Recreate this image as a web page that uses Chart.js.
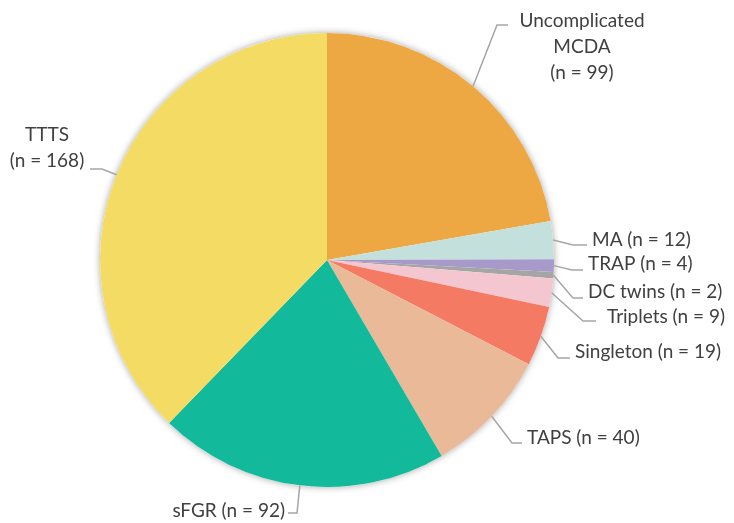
<!DOCTYPE html>
<html>
<head>
<meta charset="utf-8">
<script src="https://cdn.jsdelivr.net/npm/chart.js@4"></script>
<style>
  html, body { margin: 0; padding: 0; background: #fff; }
  #wrap { width: 734px; height: 523px; }
</style>
</head>
<body>
<div id="wrap"><canvas id="pieChart"></canvas></div>
<script>
// data
var categories = ['Uncomplicated MCDA', 'MA', 'TRAP', 'DC twins', 'Triplets', 'Singleton', 'TAPS', 'sFGR', 'TTTS'];
var counts = [99, 12, 4, 2, 9, 19, 40, 92, 168];
var sliceColors = ['#EDA843', '#C4E0DC', '#A899CB', '#A5A5A5', '#F4C6D0', '#F47A63', '#E9B998', '#12B99A', '#F4DC64'];

// label text lines for each slice
var labelLines = [
    ['Uncomplicated', 'MCDA', '(n = 99)'],
    ['MA (n = 12)'],
    ['TRAP (n = 4)'],
    ['DC twins (n = 2)'],
    ['Triplets (n = 9)'],
    ['Singleton (n = 19)'],
    ['TAPS (n = 40)'],
    ['sFGR (n = 92)'],
    ['TTTS', '(n = 168)']
];

// label placement: elbow, line end, text anchor, alignment
var labelLayout = [
    { elbow: [497, 25], end: [508, 25], text: [582, 21], align: 'center' },
    { elbow: [573, 245], end: [587, 245], text: [592, 240], align: 'left' },
    { elbow: [572, 270], end: [583, 270], text: [588, 264], align: 'left' },
    { elbow: [573, 298], end: [583, 298], text: [588, 292], align: 'left' },
    { elbow: [583, 321], end: [596, 321], text: [607, 317], align: 'left' },
    { elbow: [558, 358], end: [570, 358], text: [575, 352], align: 'left' },
    { elbow: [512, 443], end: [522, 443], text: [527, 438], align: 'left' },
    { elbow: [297, 513], end: [288, 513], text: [285, 511], align: 'right' },
    { elbow: [102, 169], end: [90, 169], text: [47, 135], align: 'center' }
];

var pieShadow = {
    id: 'pieShadow',
    beforeDatasetsDraw: function (chart) {
        var arc = chart.getDatasetMeta(0).data[0];
        if (!arc) return;
        var ctx = chart.ctx;
        ctx.save();
        ctx.shadowColor = 'rgba(0,0,0,0.35)';
        ctx.shadowBlur = 7;
        ctx.fillStyle = '#fff';
        ctx.beginPath();
        ctx.arc(arc.x, arc.y, arc.outerRadius, 0, Math.PI * 2);
        ctx.fill();
        ctx.restore();
    }
};

var leaderLabels = {
    id: 'leaderLabels',
    afterDatasetsDraw: function (chart) {
        var ctx = chart.ctx;
        var meta = chart.getDatasetMeta(0);
        ctx.save();
        meta.data.forEach(function (arc, i) {
            var lay = labelLayout[i];
            var mid = (arc.startAngle + arc.endAngle) / 2;
            var sx = arc.x + Math.cos(mid) * arc.outerRadius;
            var sy = arc.y + Math.sin(mid) * arc.outerRadius;
            ctx.strokeStyle = '#A6A6A6';
            ctx.lineWidth = 1.5;
            ctx.beginPath();
            ctx.moveTo(sx, sy);
            ctx.lineTo(lay.elbow[0], lay.elbow[1]);
            ctx.lineTo(lay.end[0], lay.end[1]);
            ctx.stroke();

            ctx.fillStyle = '#404040';
            ctx.font = '19px Lato, "Open Sans", sans-serif';
            ctx.textAlign = lay.align;
            ctx.textBaseline = 'middle';
            labelLines[i].forEach(function (line, j) {
                ctx.fillText(line, lay.text[0], lay.text[1] + j * 26);
            });
        });
        ctx.restore();
    }
};

new Chart(document.getElementById('pieChart').getContext('2d'), {
    type: 'pie',
    data: {
        labels: categories,
        datasets: [{
            data: counts,
            backgroundColor: sliceColors,
            borderWidth: 0
        }]
    },
    options: {
        responsive: true,
        maintainAspectRatio: false,
        animation: false,
        layout: {
            padding: { left: 100, right: 180, top: 33, bottom: 36 }
        },
        plugins: {
            legend: { display: false },
            tooltip: { enabled: false }
        }
    },
    plugins: [pieShadow, leaderLabels]
});
</script>
</body>
</html>
